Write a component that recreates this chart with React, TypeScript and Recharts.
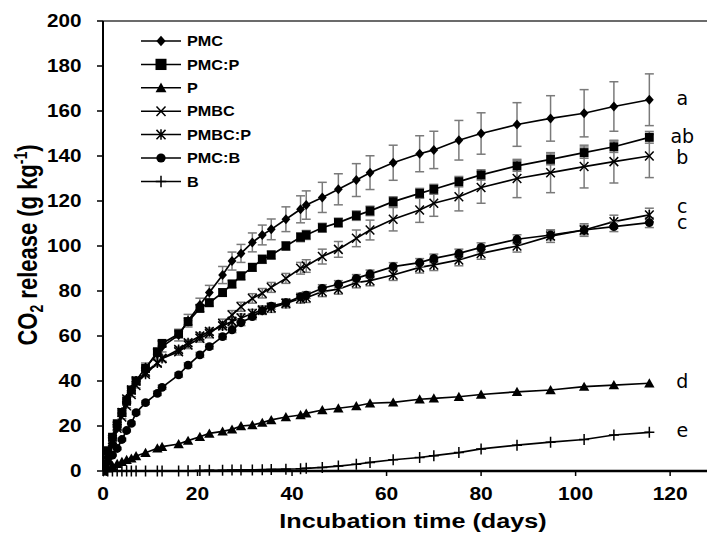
import React from 'react';
import { LineChart, Line, XAxis, YAxis, ErrorBar, ReferenceLine, LabelList } from 'recharts';

// ---------- data ----------
const days = [0, 1, 2, 3, 4, 5, 6, 7, 9, 11.5, 12.5, 16, 18, 20.5, 22.5, 25.3, 27.3, 29.2, 31.6, 33.7, 35.6, 38.7, 41.8, 43, 46.4, 49.8, 53.6, 56.5, 61.4, 67, 70, 75.3, 80, 87.6, 94.7, 101.8, 108.1, 115.6];

const pmc = [0, 6, 12, 19, 26, 32, 36, 40, 46, 52, 55.3, 60.4, 66.8, 73.8, 79.3, 87.1, 93.3, 96.7, 101.6, 104.9, 107.4, 111.9, 116.3, 118.2, 121.6, 125.2, 129.3, 132.6, 137, 141, 142.7, 147, 150, 154, 156.7, 159, 162, 165];
const pmcErr = [0, 0.5, 0.8, 1, 1.2, 1.4, 1.5, 1.7, 2, 2.2, 2.4, 2.6, 2.8, 3, 3.2, 3.8, 4, 4, 4.2, 4.4, 4.6, 5.5, 6, 6.3, 6.7, 6.9, 7.3, 7.5, 7.8, 8, 8.3, 8.8, 9.2, 9.7, 10.1, 10.5, 11, 11.5];

const pmcP = [0, 9, 15, 21, 26, 31, 36, 40, 45.6, 53, 56.7, 60.9, 66.4, 72.3, 74.8, 79.3, 83.1, 86.7, 90.5, 94.1, 96, 100, 103.9, 104.9, 108.1, 110.4, 113.5, 115.6, 119.7, 123.4, 125.2, 128.6, 131.6, 135.6, 138.5, 141.5, 144.1, 148.3];
const pmcPErr = [0, 0.5, 0.5, 0.6, 0.7, 0.8, 0.9, 1, 1, 1.2, 1.2, 1.3, 1.4, 1.5, 1.5, 1.6, 1.6, 1.7, 1.7, 1.8, 1.8, 1.9, 2, 2, 2, 2, 2.1, 2.1, 2.2, 2.2, 2.2, 2.3, 2.3, 2.4, 2.4, 2.5, 2.5, 2.6];

const p = [0, 1.2, 2.3, 3.2, 4.1, 5, 5.6, 6.7, 8.1, 10.1, 10.8, 12, 13.5, 15.2, 16.7, 17.6, 18.5, 20, 20.4, 21.5, 22.7, 24, 24.9, 25.6, 27.1, 27.9, 28.9, 30.1, 30.5, 31.9, 32.3, 33, 34, 35.2, 36, 37.5, 38.2, 39];

const pmbc = [0, 7, 13, 19, 24, 29, 34, 38, 44, 48, 50, 53, 56, 59, 61, 65.6, 69.3, 73, 76.7, 79, 81.6, 85.6, 90.1, 91.1, 95.3, 98.5, 103.4, 107.1, 111.9, 116, 119, 121.9, 126, 130, 132.6, 135.3, 137.5, 140];
const pmbcErr = [0, 0.5, 0.6, 0.7, 0.8, 0.9, 1, 1.1, 1.2, 1.3, 1.4, 1.5, 1.6, 1.7, 1.8, 1.9, 2, 2, 2.1, 2.1, 2.2, 2.2, 2.6, 2.8, 3.3, 3.5, 3.7, 4.4, 5.2, 5.5, 5.8, 6.3, 7, 8.5, 8.9, 9.5, 9.5, 9.6];

const pmbcP = [0, 8, 14, 20, 26, 32, 36, 40, 43, 48, 50, 54, 57, 60, 62, 64.5, 66.5, 68, 70, 71.5, 72.5, 74.5, 76.7, 77, 79.7, 80.8, 83.7, 84.6, 87.1, 90.5, 91.6, 93.8, 96.7, 100, 104.4, 107.1, 110.8, 113.8];
const pmbcPErr = [0, 0.4, 0.5, 0.6, 0.7, 0.8, 0.9, 1, 1.1, 1.2, 1.2, 1.3, 1.4, 1.5, 1.5, 1.6, 1.7, 1.8, 1.8, 1.9, 2, 2, 2.1, 2.1, 2.2, 2.2, 2.3, 2.3, 2.4, 2.5, 2.5, 2.6, 2.6, 2.7, 2.8, 2.8, 2.9, 3];

const pmcB = [0, 4, 7.1, 10, 14, 18, 21.2, 25.9, 30.4, 34.5, 37.2, 42.7, 47.1, 51.6, 55.3, 59.7, 62.7, 65.9, 68.6, 71.3, 73.3, 74.8, 77.5, 78.2, 81.2, 83, 85.6, 87.6, 90.8, 92.6, 94.5, 96.7, 99.4, 103, 104.9, 107.1, 108.6, 110.4];
const pmcBErr = [0, 0.3, 0.4, 0.5, 0.6, 0.6, 0.7, 0.8, 0.8, 0.9, 0.9, 1, 1, 1.1, 1.1, 1.2, 1.2, 1.3, 1.3, 1.4, 1.4, 1.5, 1.5, 1.5, 1.6, 1.6, 1.7, 1.7, 1.8, 1.8, 1.9, 1.9, 2, 2, 2.1, 2.1, 2.2, 2.2];

const b = [0, 0, 0, 0, 0, 0, 0, 0, 0, 0, 0, 0, 0.1, 0.2, 0.3, 0.3, 0.4, 0.5, 0.5, 0.6, 0.7, 0.8, 1, 1.2, 1.6, 2.2, 3, 3.8, 5, 6, 6.8, 8.2, 9.8, 11.5, 12.8, 14, 16, 17.2];

const seriesNames = ['PMC', 'PMC:P', 'P', 'PMBC', 'PMBC:P', 'PMC:B', 'B'];
const sigLetters = ['a', 'ab', 'd', 'b', 'c', 'c', 'e'];
const xTicks = [0, 20, 40, 60, 80, 100, 120];
const yTicks = [0, 20, 40, 60, 80, 100, 120, 140, 160, 180, 200];

const data = days.map((d, i) => ({
  day: d,
  pmc: pmc[i], pmcErr: pmcErr[i],
  pmcP: pmcP[i], pmcPErr: pmcPErr[i],
  p: p[i],
  pmbc: pmbc[i], pmbcErr: pmbcErr[i],
  pmbcP: pmbcP[i], pmbcPErr: pmbcPErr[i],
  pmcB: pmcB[i], pmcBErr: pmcBErr[i],
  b: b[i],
}));

// ---------- styles ----------
const FONT = '"Liberation Sans", Arial, sans-serif';
type Shape = 'diamond' | 'square' | 'triangle' | 'x' | 'asterisk' | 'circle' | 'plus';

const series: { key: string; err?: string; shape: Shape; sigDy: number }[] = [
  { key: 'pmc', err: 'pmcErr', shape: 'diamond', sigDy: 5 },
  { key: 'pmcP', err: 'pmcPErr', shape: 'square', sigDy: 6 },
  { key: 'p', shape: 'triangle', sigDy: 5 },
  { key: 'pmbc', err: 'pmbcErr', shape: 'x', sigDy: 8 },
  { key: 'pmbcP', err: 'pmbcPErr', shape: 'asterisk', sigDy: -1.5 },
  { key: 'pmcB', err: 'pmcBErr', shape: 'circle', sigDy: 6 },
  { key: 'b', shape: 'plus', sigDy: 4.5 },
];

function Marker({ cx, cy, shape, s = 1 }: { cx: number; cy: number; shape: Shape; s?: number }) {
  const sw = 1.5;
  switch (shape) {
    case 'diamond':
      return <path d={`M${cx},${cy - 5 * s}L${cx + 4.4 * s},${cy}L${cx},${cy + 5 * s}L${cx - 4.4 * s},${cy}Z`} fill="#000" />;
    case 'square':
      return <rect x={cx - 4.4 * s} y={cy - 4.5 * s} width={8.8 * s} height={9 * s} fill="#000" />;
    case 'triangle':
      return <path d={`M${cx},${cy - 5 * s}L${cx + 5.2 * s},${cy + 4.2 * s}L${cx - 5.2 * s},${cy + 4.2 * s}Z`} fill="#000" />;
    case 'circle':
      return <circle cx={cx} cy={cy} r={4.4 * s} fill="#000" />;
    case 'x':
      return (
        <path d={`M${cx - 4.3 * s},${cy - 4.5 * s}L${cx + 4.3 * s},${cy + 4.5 * s}M${cx - 4.3 * s},${cy + 4.5 * s}L${cx + 4.3 * s},${cy - 4.5 * s}`} stroke="#000" strokeWidth={sw} fill="none" />
      );
    case 'asterisk':
      return (
        <path d={`M${cx - 4.3 * s},${cy - 4.5 * s}L${cx + 4.3 * s},${cy + 4.5 * s}M${cx - 4.3 * s},${cy + 4.5 * s}L${cx + 4.3 * s},${cy - 4.5 * s}M${cx},${cy - 5 * s}L${cx},${cy + 5 * s}`} stroke="#000" strokeWidth={sw} fill="none" />
      );
    case 'plus':
    default:
      return (
        <path d={`M${cx - 5 * s},${cy}L${cx + 5 * s},${cy}M${cx},${cy - 5.5 * s}L${cx},${cy + 5.5 * s}`} stroke="#000" strokeWidth={sw} fill="none" />
      );
  }
}

const makeDot = (shape: Shape, key: string) => (props: any) => {
  const { cx, cy, index } = props;
  if (cx == null || cy == null) return <g key={`${key}-${index}`} />;
  return (
    <g key={`${key}-${index}`}>
      <Marker cx={cx} cy={cy} shape={shape} />
    </g>
  );
};

const makeSig = (letter: string, dy: number) => (props: any) => {
  const { x, y, index } = props;
  if (index !== days.length - 1) return null;
  return (
    <text x={x + 33} y={y + dy} textAnchor="middle" fontFamily='"DejaVu Sans", sans-serif' fontSize={19} fill="#000">
      {letter}
    </text>
  );
};

const YTick = (props: any) => {
  const { y, payload } = props;
  return (
    <text transform={`translate(81.5, ${y}) scale(1.18,1)`} textAnchor="end" dy="0.36em" fontFamily={FONT} fontWeight={700} fontSize={17.5} fill="#000">
      {payload.value}
    </text>
  );
};

const XTick = (props: any) => {
  const { x, payload } = props;
  return (
    <text transform={`translate(${x}, 499.5) scale(1.2,1)`} textAnchor="middle" fontFamily={FONT} fontWeight={700} fontSize={17.5} fill="#000">
      {payload.value}
    </text>
  );
};

const legendY0 = 41;
const legendStep = 23.4;

export default function App() {
  return (
    <div style={{ position: 'absolute', left: 0, top: 0, width: 707, height: 538, background: '#fff' }}>
      <LineChart width={707} height={538} data={data} margin={{ top: 21, right: 0, bottom: 0, left: 0 }}>
        <XAxis
          type="number"
          dataKey="day"
          domain={[0, 127.8]}
          ticks={xTicks}
          allowDataOverflow
          height={67}
          tickSize={5}
          tickLine={{ stroke: '#000', strokeWidth: 1.5 }}
          axisLine={{ stroke: '#000', strokeWidth: 2.5 }}
          tick={<XTick />}
        />
        <YAxis
          type="number"
          domain={[0, 200]}
          ticks={yTicks}
          width={103}
          tickSize={6}
          tickLine={{ stroke: '#000', strokeWidth: 1.5 }}
          axisLine={{ stroke: '#000', strokeWidth: 2 }}
          tick={<YTick />}
        />
        <ReferenceLine y={200} stroke="#3a3a3a" strokeWidth={1.6} />
        {series.map((s) => (
          <Line
            key={s.key}
            dataKey={s.key}
            type="linear"
            stroke="#000"
            strokeWidth={1.7}
            dot={makeDot(s.shape, s.key)}
            activeDot={false}
            isAnimationActive={false}
          >
            {s.err ? <ErrorBar dataKey={s.err} width={4.5} stroke="#7a7a7a" strokeWidth={1.5} direction="y" /> : null}
            <LabelList dataKey={s.key} content={makeSig(sigLetters[series.indexOf(s)], s.sigDy)} />
          </Line>
        ))}
      </LineChart>
      <svg width={707} height={538} style={{ position: 'absolute', left: 0, top: 0, pointerEvents: 'none' }}>
        {/* legend */}
        {seriesNames.map((name, i) => {
          const cy = legendY0 + i * legendStep;
          return (
            <g key={name}>
              <line x1={141} x2={181} y1={cy} y2={cy} stroke="#000" strokeWidth={1.5} />
              <Marker cx={161} cy={cy} shape={series[i].shape} s={series[i].shape === 'square' ? 1.25 : 1.05} />
              <text transform={`translate(187, ${cy + 5.2}) scale(1.12,1)`} fontFamily={FONT} fontWeight={700} fontSize={14.5} fill="#000">
                {name}
              </text>
            </g>
          );
        })}
        {/* axis titles */}
        <text transform="translate(413, 528) scale(1.2,1)" textAnchor="middle" fontFamily={FONT} fontWeight={700} fontSize={21} fill="#000">
          Incubation time (days)
        </text>
        <text transform="translate(37, 245) scale(1.25,1) rotate(-90)" textAnchor="middle" fontFamily={FONT} fontWeight={700} fontSize={22} fill="#000">
          CO
          <tspan fontSize={14} dy={5}>2</tspan>
          <tspan dy={-5}> release (g kg</tspan>
          <tspan fontSize={14} dy={-8}>-1</tspan>
          <tspan dy={8}>)</tspan>
        </text>
      </svg>
    </div>
  );
}
